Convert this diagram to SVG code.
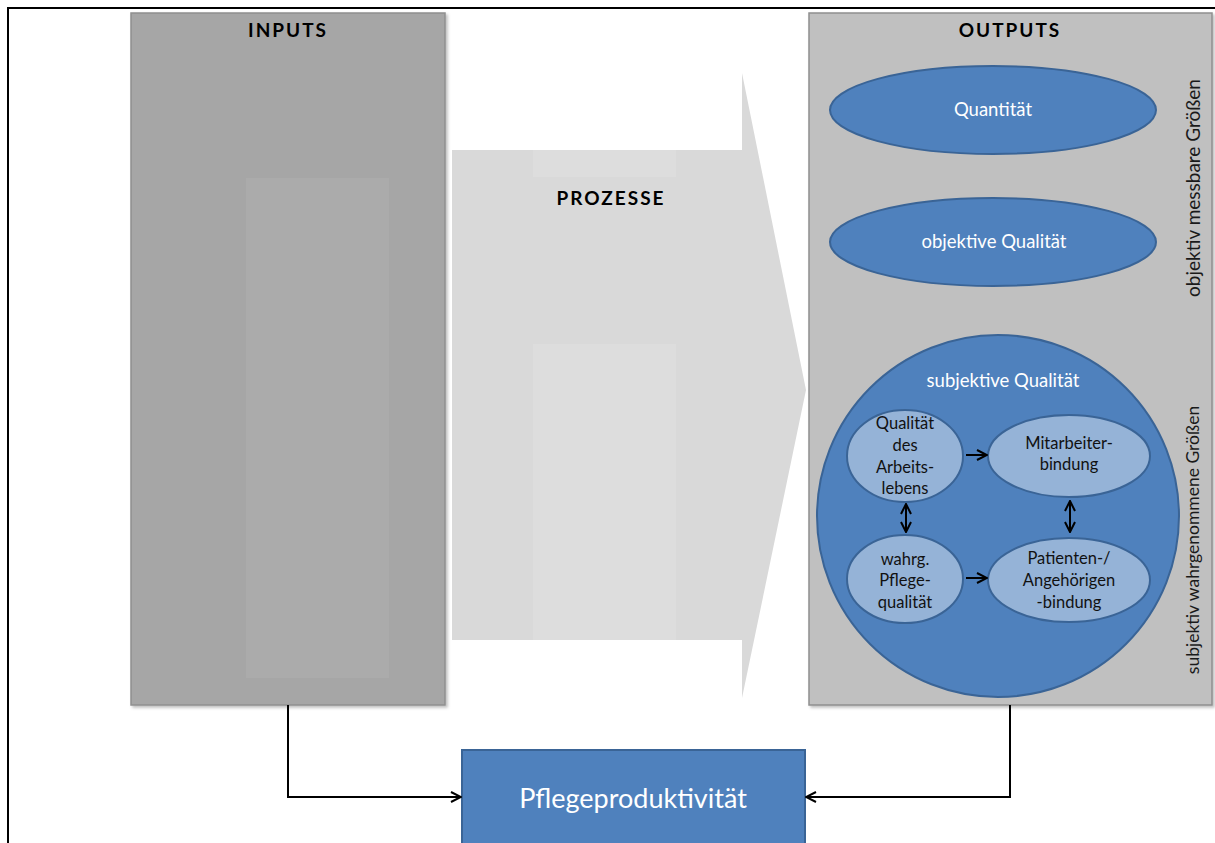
<svg xmlns="http://www.w3.org/2000/svg" width="1215" height="843" viewBox="0 0 1215 843">
<style>
.t{font-family:Lato,"Open Sans","Liberation Sans",sans-serif}
.hd{font-weight:bold;font-size:19px;letter-spacing:2px;fill:#000}
.w{fill:#fff;font-size:18.5px}
.s{fill:#111;font-size:16.5px}
.v{fill:#1a1a1a}
.big{fill:#4f81bd;stroke:#3a6496;stroke-width:2}
.sm{fill:#95b3d7;stroke:#3a6496;stroke-width:2}
.con{fill:none;stroke:#000;stroke-width:2}
</style>
<defs>
<marker id="ah" viewBox="0 0 12 12" refX="11" refY="6" markerWidth="12" markerHeight="12" markerUnits="userSpaceOnUse" orient="auto-start-reverse">
<path d="M1,1 L11,6 L1,11" fill="none" stroke="#000" stroke-width="2"/>
</marker>
<filter id="sh" x="-5%" y="-5%" width="110%" height="110%">
<feDropShadow dx="2" dy="2" stdDeviation="1.5" flood-color="#000" flood-opacity="0.25"/>
</filter>
</defs>
<rect x="0" y="0" width="1215" height="843" fill="#fff"/>
<rect x="8" y="8" width="1220" height="850" fill="none" stroke="#000" stroke-width="2"/>

<g id="inputs">
<rect x="131" y="13" width="314" height="692" fill="#a6a6a6" stroke="#8f8f8f" stroke-width="1.5" filter="url(#sh)"/>
<rect x="246" y="178" width="143" height="500" fill="#ababab"/>
<text class="t hd" x="288" y="37" text-anchor="middle">INPUTS</text>
</g>

<g id="prozesse">
<path d="M452,150 L742,150 L742,73 L806,390 L742,698 L742,640 L452,640 Z" fill="#d9d9d9"/>
<rect x="533" y="150" width="143" height="27" fill="#dddddd"/>
<rect x="533" y="344" width="143" height="296" fill="#dddddd"/>
<text class="t hd" x="611" y="205" text-anchor="middle">PROZESSE</text>
</g>

<g id="outputs">
<rect x="809" y="13" width="403" height="692" fill="#c0c0c0" stroke="#8f8f8f" stroke-width="1.5" filter="url(#sh)"/>
<text class="t hd" x="1010" y="37" text-anchor="middle">OUTPUTS</text>
<text class="t v" font-size="19" transform="translate(1200,188) rotate(-90)" text-anchor="middle">objektiv messbare Größen</text>
<text class="t v" font-size="17.5" transform="translate(1199,540) rotate(-90)" text-anchor="middle">subjektiv wahrgenommene Größen</text>
</g>

<g id="quantitaet">
<ellipse class="big" cx="993" cy="110" rx="163" ry="44"/>
<text class="t w" x="993" y="116" text-anchor="middle">Quantität</text>
</g>

<g id="objektive-qualitaet">
<ellipse class="big" cx="993" cy="242" rx="163" ry="44"/>
<text class="t w" x="994" y="248" text-anchor="middle">objektive Qualität</text>
</g>

<g id="subjektive-qualitaet">
<circle class="big" cx="998" cy="516" r="181"/>
<text class="t w" x="1003" y="387" text-anchor="middle">subjektive Qualität</text>
</g>

<g id="qualitaet-arbeitsleben">
<ellipse class="sm" cx="905" cy="456" rx="58" ry="46"/>
<text class="t s" x="905" y="429" text-anchor="middle">Qualität</text>
<text class="t s" x="905" y="451" text-anchor="middle">des</text>
<text class="t s" x="905" y="473" text-anchor="middle">Arbeits-</text>
<text class="t s" x="905" y="494" text-anchor="middle">lebens</text>
</g>

<g id="mitarbeiterbindung">
<ellipse class="sm" cx="1069" cy="456" rx="81" ry="41"/>
<text class="t s" x="1069" y="449" text-anchor="middle">Mitarbeiter-</text>
<text class="t s" x="1069" y="470" text-anchor="middle">bindung</text>
</g>

<g id="pflegequalitaet">
<ellipse class="sm" cx="905" cy="579" rx="58" ry="44"/>
<text class="t s" x="905" y="565" text-anchor="middle">wahrg.</text>
<text class="t s" x="905" y="586" text-anchor="middle">Pflege-</text>
<text class="t s" x="905" y="608" text-anchor="middle">qualität</text>
</g>

<g id="patientenbindung">
<ellipse class="sm" cx="1069" cy="580" rx="81" ry="42"/>
<text class="t s" x="1069" y="564" text-anchor="middle">Patienten-/</text>
<text class="t s" x="1069" y="586" text-anchor="middle">Angehörigen</text>
<text class="t s" x="1069" y="608" text-anchor="middle">-bindung</text>
</g>

<g id="pflegeproduktivitaet">
<rect x="462" y="750" width="343" height="100" fill="#4f81bd" stroke="#3a6496" stroke-width="2"/>
<text class="t" x="633" y="808" text-anchor="middle" fill="#fff" font-size="27">Pflegeproduktivität</text>
</g>

<g id="connectors">
<line class="con" x1="966" y1="455" x2="987" y2="455" marker-end="url(#ah)"/>
<line class="con" x1="966" y1="578" x2="987" y2="578" marker-end="url(#ah)"/>
<line class="con" x1="906" y1="504" x2="906" y2="532" marker-start="url(#ah)" marker-end="url(#ah)"/>
<line class="con" x1="1070" y1="501" x2="1070" y2="532" marker-start="url(#ah)" marker-end="url(#ah)"/>
<path class="con" d="M288,705 L288,797 L461,797" marker-end="url(#ah)"/>
<path class="con" d="M1010,705 L1010,797 L806,797" marker-end="url(#ah)"/>
</g>
</svg>
